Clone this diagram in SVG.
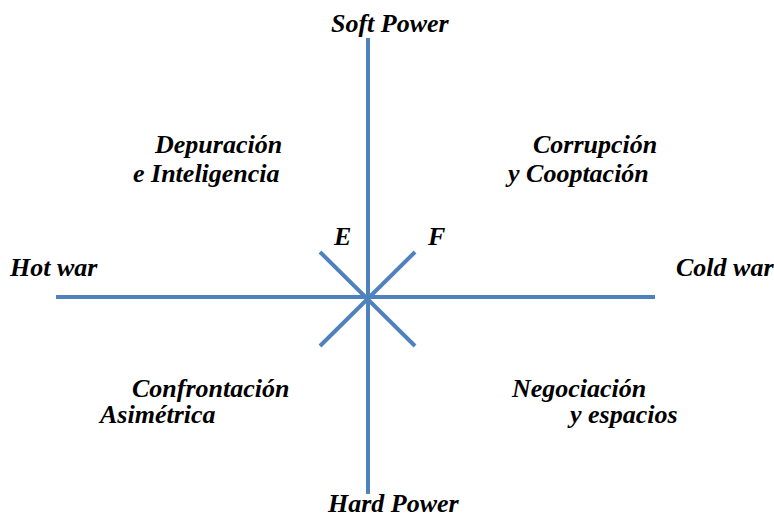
<svg xmlns="http://www.w3.org/2000/svg" width="774" height="523" viewBox="0 0 774 523">
<style>
.ln{stroke:#4F81BD;stroke-width:4;fill:none}
</style>
<rect width="774" height="523" fill="#fff"/>
<g id="connectors">
<line class="ln" x1="368" y1="38" x2="368" y2="494"/>
<line class="ln" x1="56" y1="297" x2="655" y2="297"/>
<line class="ln" x1="320" y1="252" x2="415" y2="346"/>
<line class="ln" x1="415" y1="252" x2="320" y2="346"/>
</g>
<text id="soft" x="331" y="32" font-family="serif" font-weight="bold" font-style="italic" font-size="26">Soft Power</text>
<text id="hard" x="328" y="512" font-family="serif" font-weight="bold" font-style="italic" font-size="26">Hard Power</text>
<text id="hot" x="10" y="276" font-family="serif" font-weight="bold" font-style="italic" font-size="26">Hot war</text>
<text id="cold" x="676" y="276" font-family="serif" font-weight="bold" font-style="italic" font-size="26">Cold war</text>
<text id="q1a" x="155" y="153" font-family="serif" font-weight="bold" font-style="italic" font-size="26">Depuraci&#243;n</text>
<text id="q1b" x="133" y="182" font-family="serif" font-weight="bold" font-style="italic" font-size="26">e Inteligencia</text>
<text id="q2a" x="533" y="153" font-family="serif" font-weight="bold" font-style="italic" font-size="26">Corrupci&#243;n</text>
<text id="q2b" x="508" y="182" font-family="serif" font-weight="bold" font-style="italic" font-size="26">y Cooptaci&#243;n</text>
<text id="q3a" x="132" y="397" font-family="serif" font-weight="bold" font-style="italic" font-size="26">Confrontaci&#243;n</text>
<text id="q3b" x="100" y="423" font-family="serif" font-weight="bold" font-style="italic" font-size="26">Asim&#233;trica</text>
<text id="q4a" x="512" y="397" font-family="serif" font-weight="bold" font-style="italic" font-size="26">Negociaci&#243;n</text>
<text id="q4b" x="570" y="423" font-family="serif" font-weight="bold" font-style="italic" font-size="26">y espacios</text>
<text id="e" x="334" y="245" font-family="serif" font-weight="bold" font-style="italic" font-size="26">E</text>
<text id="f" x="428" y="245" font-family="serif" font-weight="bold" font-style="italic" font-size="26">F</text>
</svg>
